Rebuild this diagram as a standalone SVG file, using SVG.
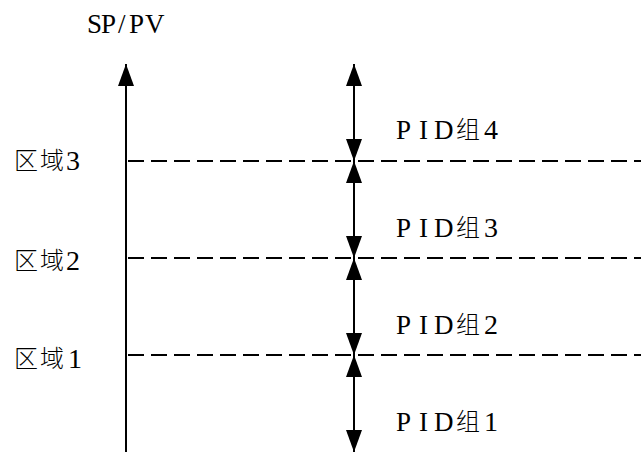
<svg xmlns="http://www.w3.org/2000/svg" width="641" height="455" viewBox="0 0 641 455">
<style>
.l{font-family:"Liberation Serif",serif;font-size:27px;fill:#000}
.n{font-family:"Liberation Serif",serif;font-size:28px;fill:#000}
.c{font-family:"Noto Sans CJK SC",sans-serif;font-size:24px;font-weight:300;fill:#000}
.ax{stroke:#000;stroke-width:2;fill:none}
.d{stroke:#000;stroke-width:2;stroke-dasharray:16 7;fill:none}
</style>
<defs>
<marker id="ah" viewBox="0 0 22 16" markerWidth="22" markerHeight="16" markerUnits="userSpaceOnUse" refX="22" refY="8" orient="auto-start-reverse">
<path d="M0,0 L22,8 L0,16 z" fill="#000"/>
</marker>
</defs>
<rect width="641" height="455" fill="#fff"/>
<g id="connectors">
<line class="ax" x1="126" y1="452" x2="126" y2="64" marker-end="url(#ah)"/>
<line class="d" x1="128" y1="161" x2="641" y2="161"/>
<line class="d" x1="128" y1="258" x2="641" y2="258"/>
<line class="d" x1="128" y1="355" x2="641" y2="355"/>
<line class="ax" x1="354" y1="64" x2="354" y2="161" marker-start="url(#ah)" marker-end="url(#ah)"/>
<line class="ax" x1="354" y1="161" x2="354" y2="258" marker-start="url(#ah)" marker-end="url(#ah)"/>
<line class="ax" x1="354" y1="258" x2="354" y2="355" marker-start="url(#ah)" marker-end="url(#ah)"/>
<line class="ax" x1="354" y1="355" x2="354" y2="452" marker-start="url(#ah)" marker-end="url(#ah)"/>
</g>
<g id="axis-label"><text class="l" font-size="26" x="87 101 118 129 145" y="33">SP/PV</text></g>
<g id="zone3"><text class="c" x="14 40" y="169">区域</text><text class="n" x="66" y="170">3</text></g>
<g id="zone2"><text class="c" x="14 40" y="269">区域</text><text class="n" x="66" y="270">2</text></g>
<g id="zone1"><text class="c" x="14 40" y="367">区域</text><text class="n" x="68" y="368">1</text></g>
<g id="pid4"><text class="l" x="396 419 434" y="139">PID</text><text class="c" x="456" y="138">组</text><text class="n" x="484" y="139">4</text></g>
<g id="pid3"><text class="l" x="396 419 434" y="237">PID</text><text class="c" x="456" y="236">组</text><text class="n" x="484" y="237">3</text></g>
<g id="pid2"><text class="l" x="396 419 434" y="334">PID</text><text class="c" x="456" y="333">组</text><text class="n" x="484" y="334">2</text></g>
<g id="pid1"><text class="l" x="396 419 434" y="431">PID</text><text class="c" x="456" y="430">组</text><text class="n" x="484" y="431">1</text></g>
</svg>
